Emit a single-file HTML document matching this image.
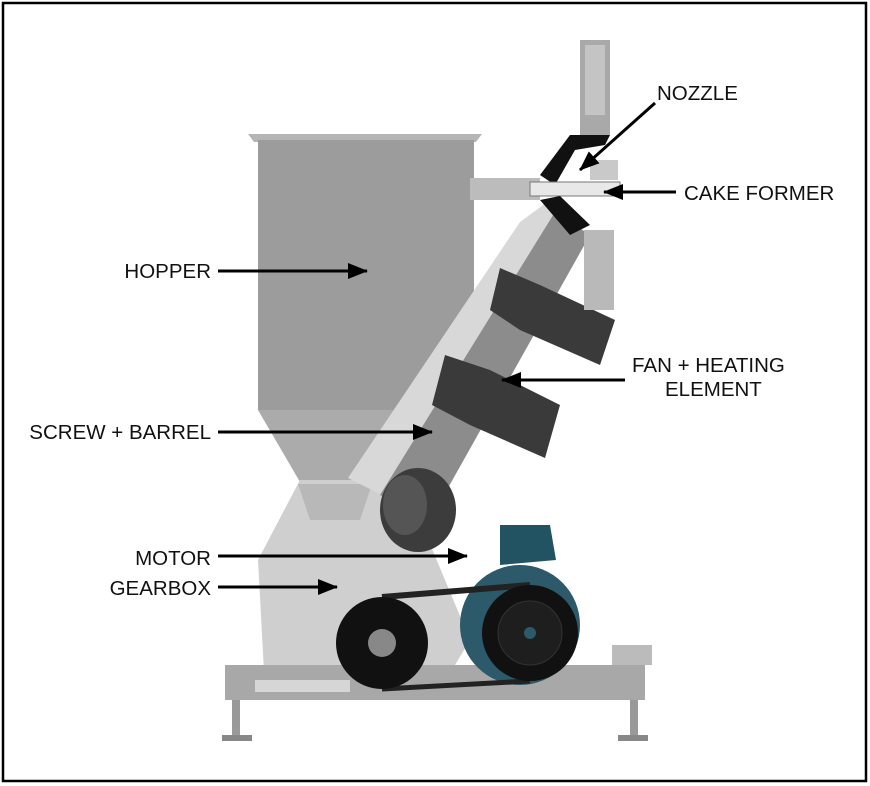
<!DOCTYPE html>
<html><head><meta charset="utf-8"><style>
html,body{margin:0;padding:0;background:#fff;}
svg{display:block;}
text{font-family:"Liberation Sans",sans-serif;font-size:20.5px;fill:#111;}
</style></head><body>
<svg width="870" height="786" viewBox="0 0 870 786" xmlns="http://www.w3.org/2000/svg">
<defs>
<marker id="ahb" markerWidth="20" markerHeight="16" refX="19" refY="8" orient="auto" markerUnits="userSpaceOnUse">
<path d="M0,0 L20,8 L0,16 z" fill="#000"/></marker>
</defs>
<rect x="3" y="3" width="863" height="778" fill="#fff" stroke="#000" stroke-width="2.5"/>

<polygon points="248,134 482,134 476,142 254,142" fill="#b5b5b5"/>
<rect x="258" y="140" width="216" height="270" fill="#9c9c9c"/>
<polygon points="258,410 474,410 370,482 300,482" fill="#ababab"/>
<rect x="470" y="178" width="70" height="22" fill="#bcbcbc"/>
<path d="M300,480 L370,480 L420,520 L470,640 L440,690 L265,690 L258,560 Z" fill="#cfcfcf"/>
<polygon points="298,484 372,484 360,520 310,520" fill="#b8b8b8"/>
<polygon points="348,478 520,222 550,200 565,215 402,505" fill="#d8d8d8"/>
<polygon points="380,495 555,212 590,235 430,520" fill="#8c8c8c"/>
<polygon points="500,268 540,285 615,320 600,365 520,330 490,310" fill="#3a3a3a"/>
<polygon points="445,355 490,370 560,405 545,458 470,425 432,405" fill="#3a3a3a"/>
<ellipse cx="418" cy="510" rx="38" ry="42" fill="#3c3c3c"/>
<ellipse cx="405" cy="505" rx="22" ry="30" fill="#555"/>
<rect x="580" y="40" width="30" height="95" fill="#a9a9a9"/>
<rect x="585" y="45" width="20" height="70" fill="#c4c4c4"/>
<polygon points="540,175 570,135 610,135 605,145 575,150 555,185" fill="#111"/>
<rect x="530" y="182" width="90" height="14" fill="#e8e8e8" stroke="#777"/>
<polygon points="540,200 560,196 590,225 570,235" fill="#111"/>
<rect x="584" y="230" width="30" height="80" fill="#b9b9b9"/>
<rect x="590" y="160" width="28" height="20" fill="#c9c9c9"/>
<rect x="225" y="665" width="420" height="35" fill="#a8a8a8"/>
<rect x="255" y="680" width="95" height="12" fill="#d6d6d6"/>
<rect x="232" y="700" width="8" height="38" fill="#999"/><rect x="222" y="735" width="30" height="6" fill="#888"/>
<rect x="630" y="700" width="8" height="38" fill="#999"/><rect x="618" y="735" width="30" height="6" fill="#888"/>
<rect x="612" y="645" width="40" height="20" fill="#bbb"/>
<circle cx="520" cy="625" r="60" fill="#2c5a6a"/>
<polygon points="500,525 550,525 556,560 500,565" fill="#225363"/>
<path d="M382,597 L530,585" stroke="#222" stroke-width="6"/>
<path d="M382,689 L530,681" stroke="#222" stroke-width="5"/>
<circle cx="382" cy="643" r="46" fill="#111"/>
<circle cx="382" cy="643" r="14" fill="#888"/>
<circle cx="530" cy="633" r="48" fill="#111"/>
<circle cx="530" cy="633" r="32" fill="#1e1e1e" stroke="#333"/>
<circle cx="530" cy="633" r="6" fill="#2c5a6a"/>

<text x="657" y="100">NOZZLE</text>
<line x1="655" y1="103" x2="580" y2="170" stroke="#000" stroke-width="3" marker-end="url(#ahb)"/>
<text x="684" y="200">CAKE FORMER</text>
<line x1="676" y1="192" x2="604" y2="192" stroke="#000" stroke-width="3" marker-end="url(#ahb)"/>
<text x="211" y="278" text-anchor="end">HOPPER</text>
<line x1="218" y1="271" x2="367" y2="271" stroke="#000" stroke-width="3" marker-end="url(#ahb)"/>
<text x="632" y="372">FAN + HEATING</text>
<text x="665" y="396">ELEMENT</text>
<line x1="625" y1="380" x2="502" y2="380" stroke="#000" stroke-width="3" marker-end="url(#ahb)"/>
<text x="211" y="439" text-anchor="end">SCREW + BARREL</text>
<line x1="218" y1="432" x2="432" y2="432" stroke="#000" stroke-width="3" marker-end="url(#ahb)"/>
<text x="211" y="565" text-anchor="end">MOTOR</text>
<line x1="218" y1="556" x2="467" y2="556" stroke="#000" stroke-width="3" marker-end="url(#ahb)"/>
<text x="211" y="595" text-anchor="end">GEARBOX</text>
<line x1="218" y1="587" x2="337" y2="587" stroke="#000" stroke-width="3" marker-end="url(#ahb)"/>
</svg>
</body></html>
